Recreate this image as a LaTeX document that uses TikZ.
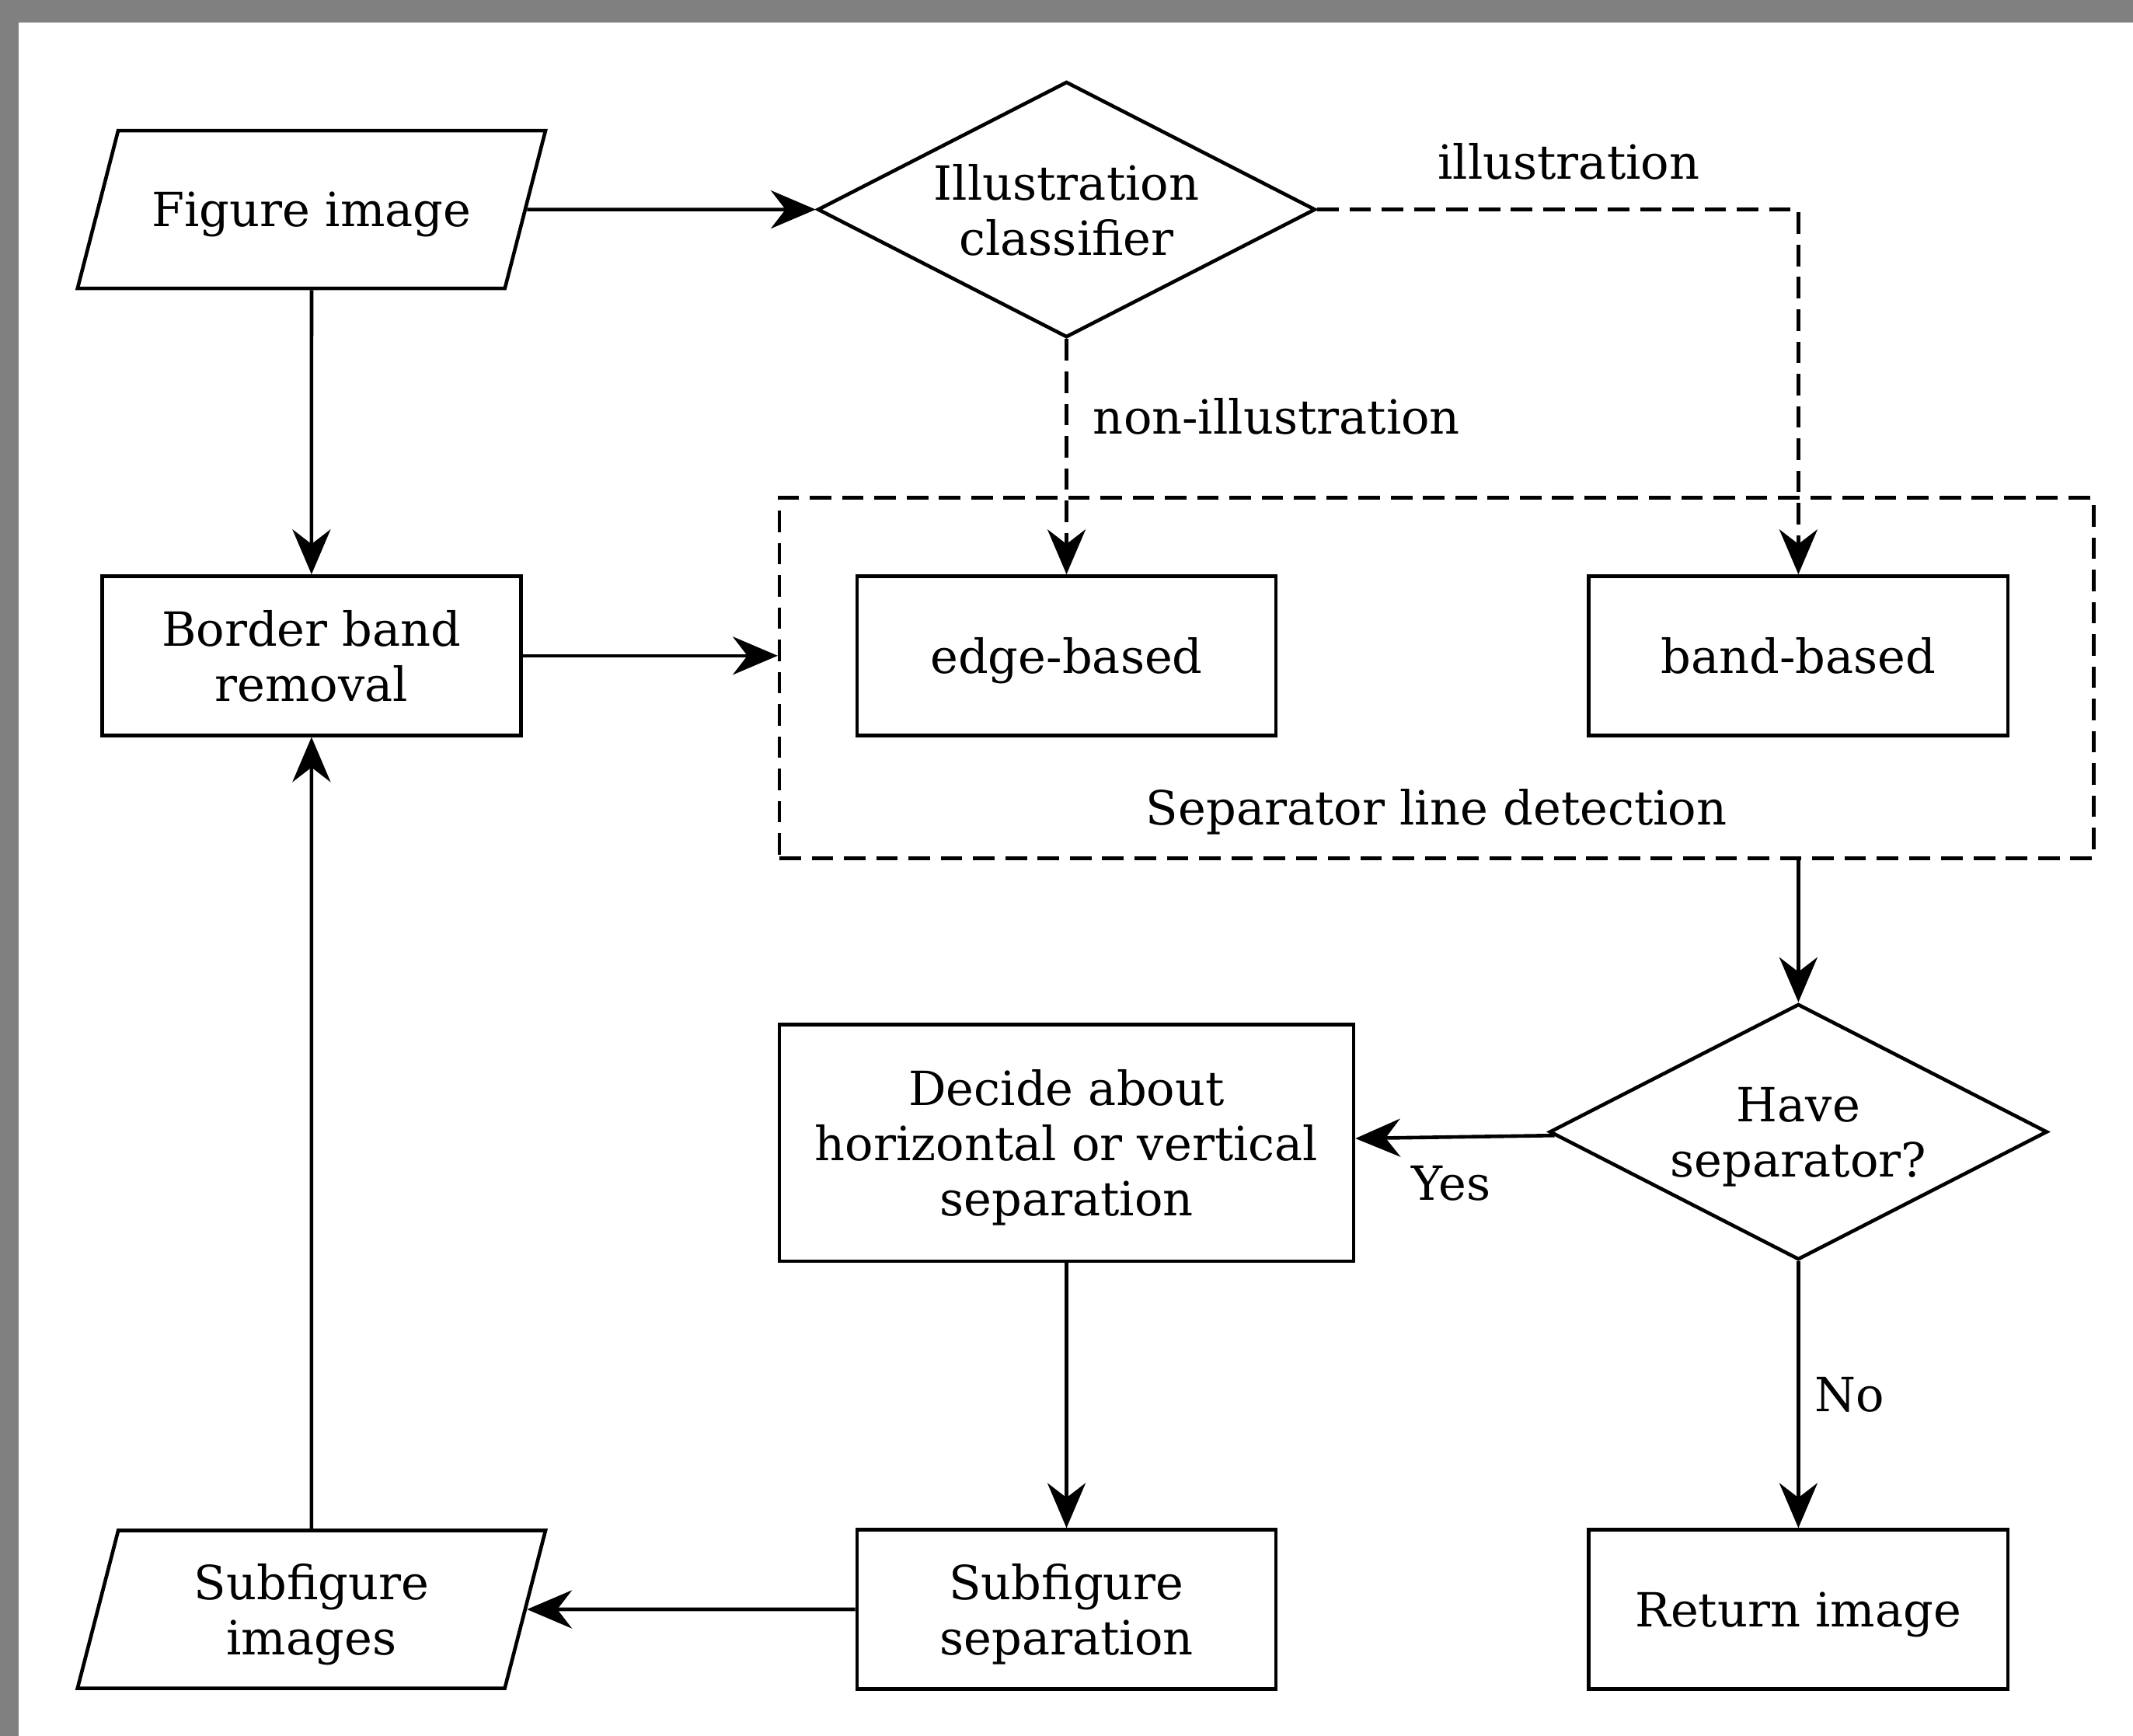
\documentclass[tikz,border=0pt]{standalone}
\usepackage{fontspec}
\setmainfont{DejaVu Serif}
\usepackage{tikz}
\usetikzlibrary{arrows.meta, shapes.geometric}
\definecolor{frameGray}{RGB}{128,128,128}
\tikzstyle{fInOut} = [trapezium, trapezium stretches body=true, trapezium left angle=75.5, trapezium right angle=104.5, minimum width=6.88cm, minimum height=2.32cm, text depth=0pt, align=center, draw=black, line width=1.5pt]
\tikzstyle{fProcess} = [rectangle, minimum width=6.16cm, minimum height=2.34cm, text depth=0pt, align=center, draw=black, line width=1.5pt]
\tikzstyle{fDecision} = [diamond, aspect=1.95, inner sep=0pt, minimum width=7.32cm, minimum height=3.76cm, text depth=0pt, align=center, draw=black, line width=1.5pt]
\tikzstyle{fGroup} = [rectangle, minimum width=19.32cm, minimum height=5.3cm, draw=black, line width=1.5pt, dash pattern=on 9pt off 4.5pt]
\tikzstyle{fArrow} = [line width=1.5pt, -{Stealth[length=6.6mm, width=5.6mm]}]
\tikzstyle{fDashArrow} = [fArrow, dash pattern=on 9pt off 4.5pt]

\begin{document}
\begin{tikzpicture}[node distance=11.1cm, font=\fontsize{19.7pt}{23pt}\selectfont]
    \useasboundingbox (0,0) rectangle (31.36,-25.52);
    \fill [frameGray] (0,0) rectangle (31.36,-25.52);
    \fill [white] (0.27,-0.33) rectangle (31.36,-25.52);

    \node (figImg) [fInOut, inner ysep=0.9cm] at (4.58,-3.08) {Figure image};
    \node (illCls) [fDecision, right of=figImg] {Illustration\\classifier};
    \node (borderRm) [fProcess, below of=figImg, node distance=6.56cm] {Border band\\removal};
    \node (edgeDet) [fProcess, below of=illCls, node distance=6.56cm] {edge-based};
    \node (bandDet) [fProcess, right of=edgeDet, node distance=10.76cm] {band-based};
    \node (sepDet) [fGroup] at (21.12,-9.97) {};
    \node (sepLbl) at (21.12,-11.94) {Separator line detection};
    \node (haveSep) [fDecision, below of=bandDet, node distance=7cm] {Have\\separator?};
    \node (decide) [fProcess, below of=edgeDet, node distance=7.16cm, minimum width=8.44cm, minimum height=3.48cm] {Decide about\\horizontal or vertical\\separation};
    \node (subSep) [fProcess, below of=edgeDet, node distance=14.02cm] {Subfigure\\separation};
    \node (retImg) [fProcess, below of=bandDet, node distance=14.02cm] {Return image};
    \node (subImg) [fInOut, inner ysep=0.49cm, below of=borderRm, node distance=14.02cm] {Subfigure\\images};

    \draw [fArrow] (figImg) -- (illCls);
    \draw [fArrow] (figImg) -- (borderRm);
    \draw [fDashArrow] (illCls.east) -| node[above=0.29cm, pos=0.25, xshift=0.16cm] {illustration} (bandDet);
    \draw [fDashArrow] (illCls) -- node[right=0.25cm, pos=0.33] {non-illustration} (edgeDet);
    \draw [fArrow] (borderRm) -- (borderRm -| sepDet.west);
    \draw [fArrow] (sepDet.south -| haveSep) -- (haveSep);
    \draw [fArrow] (haveSep) -- node[below=0.28cm, xshift=-0.06cm] {Yes} (decide);
    \draw [fArrow] (haveSep) -- node[right=0.1cm] {No} (retImg);
    \draw [fArrow] (decide) -- (subSep);
    \draw [fArrow] (subSep) -- (subImg);
    \draw [fArrow] (subImg) -- (borderRm);
\end{tikzpicture}
\end{document}
